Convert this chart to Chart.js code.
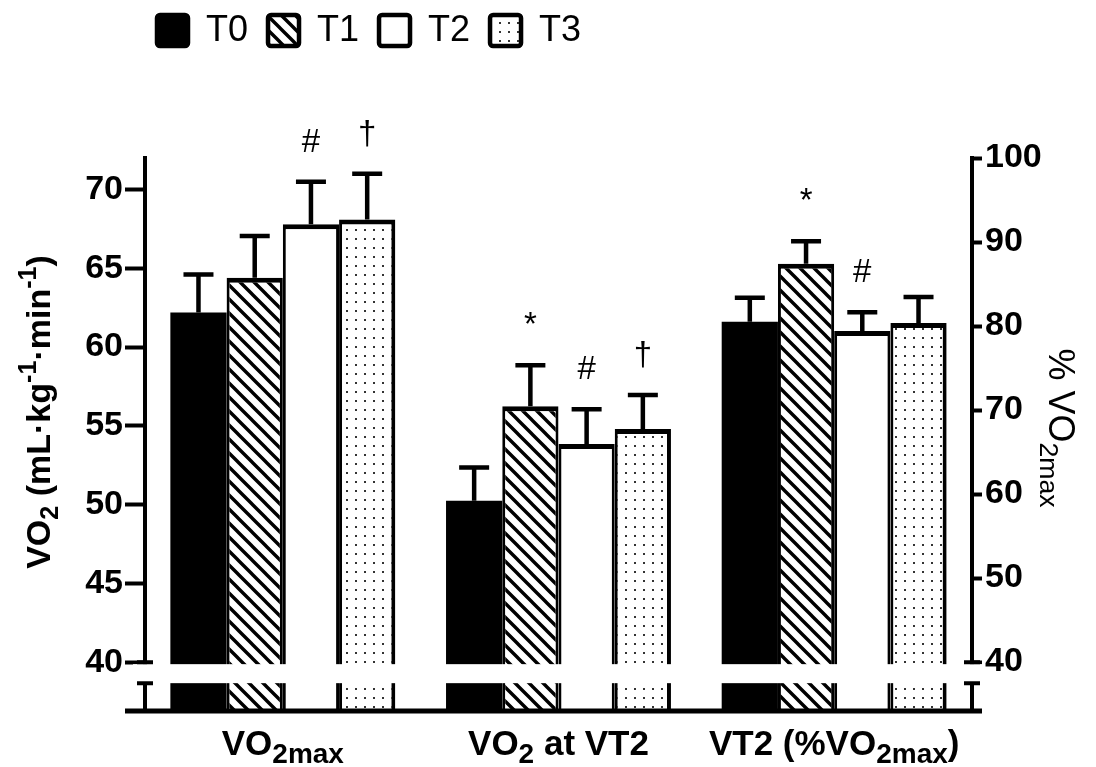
<!DOCTYPE html>
<html><head><meta charset="utf-8">
<script src="https://cdn.jsdelivr.net/npm/chart.js@4.4.1/dist/chart.umd.min.js"></script>
<style>html,body{margin:0;padding:0;background:#fff}</style>
</head><body><canvas id="c" width="1096" height="767"></canvas>
<script>
// ---------------- data ----------------
const seriesNames = ['T0', 'T1', 'T2', 'T3'];
const categories = ['VO_{2max}', 'VO_{2} at VT2', 'VT2 (%VO_{2max})'];
const vo2maxMean = [62.2, 64.4, 67.8, 68.1];
const vo2maxSD   = [2.4, 2.65, 2.7, 2.9];
const vo2vt2Mean = [50.25, 56.25, 53.85, 54.8];
const vo2vt2SD   = [2.1, 2.6, 2.2, 2.15];
const vt2PctMean = [80.5, 87.4, 79.4, 80.35];
const vt2PctSD   = [2.85, 2.7, 2.25, 3.1];
const sigVo2max  = ['', '', '#', '†'];
const sigVo2vt2  = ['', '*', '#', '†'];
const sigVt2Pct  = ['', '*', '#', ''];
const leftTicks  = [40, 45, 50, 55, 60, 65, 70];
const rightTicks = [40, 50, 60, 70, 80, 90, 100];
const leftTitle  = 'VO_{2} (mL·kg^{-1}·min^{-1})';
const rightTitle = '% VO_{2max}';

// ---------------- styles ----------------
const FONT = '"Liberation Sans", Arial, sans-serif';
function hatchPattern() {
  const s = 14, c = document.createElement('canvas'); c.width = c.height = s;
  const g = c.getContext('2d');
  g.fillStyle = '#fff'; g.fillRect(0, 0, s, s);
  g.strokeStyle = '#000'; g.lineWidth = 3.4; g.beginPath();
  for (const k of [-s, 0, s]) { g.moveTo(k - 3, -3); g.lineTo(k + s + 3, s + 3); }
  g.stroke();
  return g.createPattern(c, 'repeat');
}
function dotPattern() {
  const s = 9, c = document.createElement('canvas'); c.width = c.height = s;
  const g = c.getContext('2d');
  g.fillStyle = '#fff'; g.fillRect(0, 0, s, s);
  g.fillStyle = '#333'; g.fillRect(4, 4, 2, 2);
  return g.createPattern(c, 'repeat');
}
const fills = ['#000', hatchPattern(), '#fff', dotPattern()];
const borders = [0, { top: 5, left: 3, right: 3, bottom: 0 }, { top: 5, left: 3, right: 3, bottom: 0 }, { top: 5, left: 3, right: 4, bottom: 0 }];

function parseRich(s) {
  const parts = []; const re = /([_^])\{([^}]*)\}|([^_^]+)/g; let m;
  while ((m = re.exec(s))) {
    if (m[3] !== undefined) parts.push({ t: m[3], k: 0 });
    else parts.push({ t: m[2], k: m[1] === '_' ? 1 : 2 });
  }
  return parts;
}
function drawRich(ctx, str, x, y, size, weight, align, subRatio) {
  const parts = parseRich(str); const sub = size * (subRatio || 0.74);
  const f = k => `${weight} ${k ? sub : size}px ${FONT}`;
  let w = 0;
  parts.forEach(p => { ctx.font = f(p.k); p.w = ctx.measureText(p.t).width; w += p.w; });
  let cx = align === 'center' ? x - w / 2 : x;
  ctx.textAlign = 'left'; ctx.textBaseline = 'alphabetic';
  parts.forEach(p => {
    ctx.font = f(p.k);
    const dy = p.k === 1 ? size * 0.24 : (p.k === 2 ? -size * 0.4 : 0);
    ctx.fillText(p.t, cx, y + dy); cx += p.w;
  });
}

// ---------------- datasets ----------------
const common = { borderColor: '#000', skipNull: true, categoryPercentage: 0.816, barPercentage: 1.0 };
const datasets = [];
seriesNames.forEach((n, i) => datasets.push(Object.assign({
  label: n, yAxisID: 'y', backgroundColor: fills[i], borderWidth: borders[i],
  data: [vo2maxMean[i], vo2vt2Mean[i], null],
  err: [vo2maxSD[i], vo2vt2SD[i], null],
  sig: [sigVo2max[i], sigVo2vt2[i], '']
}, common)));
seriesNames.forEach((n, i) => datasets.push(Object.assign({
  label: n, yAxisID: 'y1', backgroundColor: fills[i], borderWidth: borders[i],
  data: [null, null, vt2PctMean[i]],
  err: [null, null, vt2PctSD[i]],
  sig: ['', '', sigVt2Pct[i]]
}, common)));

// ---------------- plugin: error bars, axis break, labels, legend ----------------
const decor = {
  id: 'decor',
  afterDatasetsDraw(chart) {
    const ctx = chart.ctx, ca = chart.chartArea;
    chart.data.datasets.forEach((ds, di) => {
      const meta = chart.getDatasetMeta(di); const ys = chart.scales[ds.yAxisID];
      meta.data.forEach((el, j) => {
        const v = ds.data[j]; if (v == null) return;
        const yE = ys.getPixelForValue(v + ds.err[j]);
        ctx.save(); ctx.strokeStyle = '#000'; ctx.lineWidth = 4.5;
        ctx.beginPath();
        ctx.moveTo(el.x, el.y); ctx.lineTo(el.x, yE);
        ctx.moveTo(el.x - 15, yE); ctx.lineTo(el.x + 15, yE);
        ctx.stroke();
        if (ds.sig[j]) {
          ctx.fillStyle = '#000'; ctx.font = `33px ${FONT}`;
          ctx.textAlign = 'center'; ctx.textBaseline = 'alphabetic';
          ctx.fillText(ds.sig[j], el.x, yE - 30);
        }
        ctx.restore();
      });
    });
    // axis break
    const y40 = chart.scales.y.getPixelForValue(40);
    const gap = 21;
    ctx.save();
    ctx.fillStyle = '#fff';
    ctx.fillRect(ca.left - 12, y40 + 2, ca.right - ca.left + 24, gap - 2);
    ctx.strokeStyle = '#000'; ctx.lineWidth = 4;
    ctx.beginPath();
    for (const ax of [ca.left, ca.right]) {
      ctx.moveTo(ax - 8, y40); ctx.lineTo(ax + 8, y40);
      ctx.moveTo(ax - 8, y40 + gap); ctx.lineTo(ax + 8, y40 + gap);
    }
    ctx.stroke();
    // x axis line
    ctx.lineWidth = 5;
    ctx.beginPath(); ctx.moveTo(ca.left - 20, ca.bottom); ctx.lineTo(ca.right + 10, ca.bottom); ctx.stroke();
    ctx.restore();
  },
  afterDraw(chart) {
    const ctx = chart.ctx, ca = chart.chartArea, xs = chart.scales.x;
    ctx.save(); ctx.fillStyle = '#000';
    // category labels
    categories.forEach((c, i) => drawRich(ctx, c, xs.getPixelForValue(i), ca.bottom + 44, 35, 'bold', 'center', 0.8));
    // left title
    ctx.save(); ctx.translate(38, 412); ctx.rotate(-Math.PI / 2);
    drawRich(ctx, leftTitle, 0, 12, 34, 'bold', 'center'); ctx.restore();
    // right title
    ctx.save(); ctx.translate(1062, 428); ctx.rotate(Math.PI / 2);
    drawRich(ctx, rightTitle, 0, 13, 36, 'normal', 'center'); ctx.restore();
    // legend
    let x = 155; const by = 13, bs = 35;
    seriesNames.forEach((n, i) => {
      ctx.fillStyle = fills[i];
      ctx.beginPath(); ctx.roundRect(x + 2, by + 2, bs - 4, bs - 4, 3); ctx.fill();
      ctx.strokeStyle = '#000'; ctx.lineWidth = 4.5; ctx.stroke();
      ctx.fillStyle = '#000'; ctx.font = `36px ${FONT}`;
      ctx.textAlign = 'left'; ctx.textBaseline = 'middle';
      const tx = x + bs + 16; ctx.fillText(n, tx, by + bs / 2 + 1);
      x = tx + ctx.measureText(n).width + 18;
    });
    ctx.restore();
  }
};

const tickFont = { family: FONT, size: 34, weight: 'bold' };
new Chart(document.getElementById('c'), {
  type: 'bar',
  data: { labels: categories, datasets },
  options: {
    responsive: false, animation: false, devicePixelRatio: 1,
    layout: { padding: { top: 158, bottom: 56, left: 0, right: 0 } },
    plugins: { legend: { display: false }, tooltip: { enabled: false } },
    scales: {
      x: { display: false },
      y: {
        position: 'left', min: 36.9, max: 72,
        afterBuildTicks: s => { s.ticks = leftTicks.map(v => ({ value: v })); },
        afterFit: s => { s.width = 145; },
        grid: { drawOnChartArea: false, tickLength: 20, tickWidth: 4, tickColor: '#000' },
        border: { display: true, width: 4, color: '#000' },
        ticks: { color: '#000', font: tickFont, padding: 2 }
      },
      y1: {
        position: 'right', min: 34.17, max: 100,
        afterBuildTicks: s => { s.ticks = rightTicks.map(v => ({ value: v })); },
        afterFit: s => { s.width = 124; },
        grid: { drawOnChartArea: false, tickLength: 10, tickWidth: 4, tickColor: '#000' },
        border: { display: true, width: 4, color: '#000' },
        ticks: { color: '#000', font: tickFont, padding: 3 }
      }
    }
  },
  plugins: [decor]
});
</script></body></html>
